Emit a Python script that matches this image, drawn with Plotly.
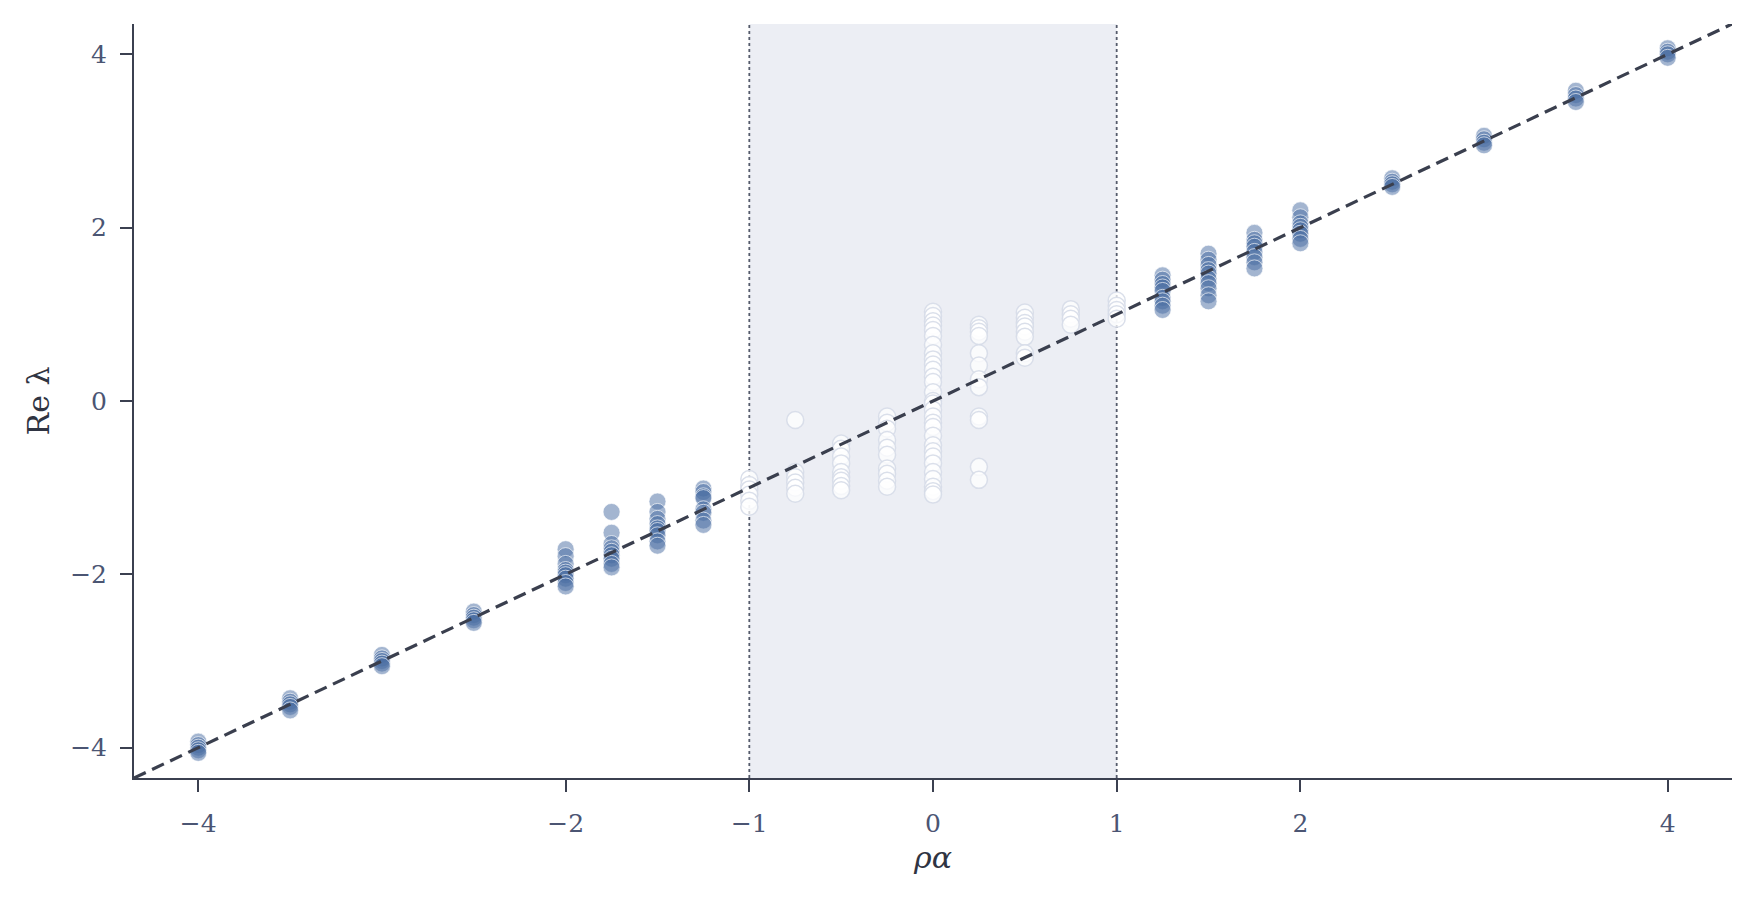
import plotly.graph_objects as go

# ---- data ----
col_x = [-4, -3.5, -3, -2.5, -2, -1.75, -1.5, -1.25, -1, -0.75, -0.5, -0.25,
         0, 0.25, 0.5, 0.75, 1, 1.25, 1.5, 1.75, 2, 2.5, 3, 3.5, 4]
col_y = [
    [-3.93, -3.97, -4.0, -4.03, -4.06],
    [-3.43, -3.47, -3.5, -3.53, -3.57],
    [-2.93, -2.97, -3.0, -3.03, -3.06],
    [-2.43, -2.47, -2.5, -2.53, -2.56],
    [-1.71, -1.79, -1.88, -1.95, -1.98, -2.01, -2.05, -2.10, -2.14],
    [-1.28, -1.52, -1.65, -1.70, -1.74, -1.78, -1.82, -1.88, -1.92],
    [-1.16, -1.28, -1.36, -1.42, -1.47, -1.50, -1.55, -1.62, -1.67],
    [-1.01, -1.05, -1.10, -1.12, -1.25, -1.29, -1.38, -1.43],
    [-0.90, -0.97, -1.02, -1.08, -1.15, -1.22],
    [-0.22, -0.82, -0.88, -0.94, -1.00, -1.07],
    [-0.49, -0.55, -0.64, -0.72, -0.82, -0.88, -0.92, -0.98, -1.03],
    [-0.18, -0.25, -0.32, -0.45, -0.54, -0.62, -0.78, -0.84, -0.92, -0.99],
    [1.03, 0.98, 0.92, 0.87, 0.82, 0.75, 0.65, 0.55, 0.48, 0.42, 0.36, 0.28,
     0.22, 0.10, 0.0, -0.03, -0.10, -0.18, -0.25, -0.30, -0.40, -0.51, -0.58,
     -0.64, -0.72, -0.82, -0.90, -0.99, -1.04, -1.08],
    [0.88, 0.84, 0.80, 0.75, 0.55, 0.41, 0.25, 0.16, -0.18, -0.22, -0.76, -0.91],
    [1.02, 0.96, 0.90, 0.86, 0.80, 0.74, 0.55, 0.50],
    [1.06, 1.00, 0.95, 0.88],
    [1.16, 1.10, 1.05, 1.00, 0.95],
    [1.45, 1.40, 1.35, 1.31, 1.27, 1.19, 1.15, 1.10, 1.05],
    [1.70, 1.63, 1.57, 1.51, 1.47, 1.41, 1.36, 1.30, 1.22, 1.15],
    [1.94, 1.86, 1.82, 1.78, 1.72, 1.66, 1.60, 1.53],
    [2.20, 2.12, 2.05, 2.01, 1.97, 1.93, 1.87, 1.82],
    [2.57, 2.53, 2.50, 2.47],
    [3.06, 3.02, 2.98, 2.95],
    [3.58, 3.53, 3.49, 3.45],
    [4.07, 4.03, 4.00, 3.96],
]
band = [-1, 1]
x_ticks = [-4, -2, -1, 0, 1, 2, 4]
y_ticks = [-4, -2, 0, 2, 4]
axis_range = [-4.35, 4.35]

# ---- split into outside / inside band ----
out_x, out_y, in_x, in_y = [], [], [], []
for xv, ys in zip(col_x, col_y):
    for yv in ys:
        if band[0] <= xv <= band[1]:
            in_x.append(xv); in_y.append(yv)
        else:
            out_x.append(xv); out_y.append(yv)

FONT = "DejaVu Serif"
AX = "#3b4050"
TXT = "#4b5573"

fig = go.Figure()
fig.add_trace(go.Scatter(
    x=out_x, y=out_y, mode="markers",
    marker=dict(size=17, color="rgba(71,107,161,0.5)",
                line=dict(color="rgba(255,255,255,0.65)", width=1)),
    showlegend=False, hoverinfo="skip"))
fig.add_trace(go.Scatter(
    x=in_x, y=in_y, mode="markers",
    marker=dict(size=17, color="rgba(255,255,255,0.75)",
                line=dict(color="rgba(214,219,232,0.9)", width=1.5)),
    showlegend=False, hoverinfo="skip"))
fig.add_trace(go.Scatter(
    x=axis_range, y=axis_range, mode="lines",
    line=dict(color="#3a3f4e", width=3.2, dash="13px,7px"),
    showlegend=False, hoverinfo="skip"))

fig.add_vrect(x0=band[0], x1=band[1], fillcolor="#eceef4", line_width=0,
              layer="below")
for b in band:
    fig.add_vline(x=b, line=dict(color="#555b6b", width=1.8, dash="dot"),
                  layer="below")

axis_common = dict(
    range=axis_range, showgrid=False, zeroline=False, showline=True,
    linecolor=AX, linewidth=2, ticks="outside", ticklen=12, tickwidth=2,
    tickcolor=AX, tickfont=dict(family=FONT, size=25, color=TXT),
)
fig.update_xaxes(**axis_common, tickvals=x_ticks, ticklabelstandoff=10,
                 title=dict(text="<i>ρα</i>", font=dict(family=FONT, size=30, color="#2f3442"),
                            standoff=10))
fig.update_yaxes(**axis_common, tickvals=y_ticks, ticklabelstandoff=8,
                 title=dict(text="Re λ", font=dict(family=FONT, size=30, color="#2f3442"),
                            standoff=12))

fig.update_layout(
    width=1755, height=903,
    margin=dict(l=126, r=31, t=16, b=133),
    plot_bgcolor="white", paper_bgcolor="white",
)
fig.write_html("out.html")
